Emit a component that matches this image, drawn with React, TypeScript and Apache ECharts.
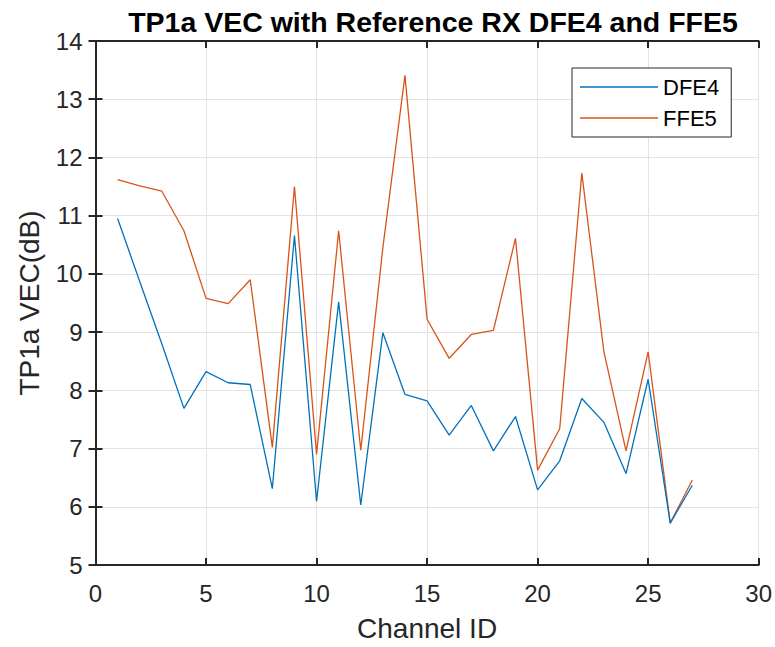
import React, { useEffect, useRef } from "react";
import * as echarts from "echarts";

const channelIds = [1, 2, 3, 4, 5, 6, 7, 8, 9, 10, 11, 12, 13, 14, 15, 16, 17, 18, 19, 20, 21, 22, 23, 24, 25, 26, 27];
const dfe4 = [10.95, 9.87, 8.8, 7.69, 8.32, 8.13, 8.1, 6.31, 10.66, 6.09, 9.52, 6.03, 8.99, 7.93, 7.82, 7.23, 7.74, 6.96, 7.55, 6.29, 6.79, 7.86, 7.45, 6.57, 8.19, 5.72, 6.37];
const ffe5 = [11.62, 11.51, 11.42, 10.74, 9.58, 9.49, 9.9, 7.02, 11.5, 6.9, 10.74, 6.97, 10.45, 13.41, 9.22, 8.55, 8.96, 9.03, 10.61, 6.63, 7.34, 11.73, 8.66, 6.96, 8.66, 5.72, 6.46];

const titleText = "TP1a VEC with Reference RX DFE4 and FFE5";
const xName = "Channel ID";
const yName = "TP1a VEC(dB)";
const xMin = 0, xMax = 30, xStep = 5;
const yMin = 5, yMax = 14, yStep = 1;

const FONT = "Liberation Sans, Arial, Helvetica, sans-serif";
const AX = "#262626";

export default function App() {
  const ref = useRef<HTMLDivElement>(null);
  useEffect(() => {
    if (!ref.current) return;
    const chart = echarts.init(ref.current, undefined, { renderer: "svg" });
    const axisCommon = {
      axisLine: { show: true, lineStyle: { color: AX, width: 2 } },
      axisTick: { show: true, inside: true, length: 7, lineStyle: { color: AX, width: 2 } },
    };
    chart.setOption({
      animation: false,
      backgroundColor: "#ffffff",
      title: {
        text: titleText,
        left: 428,
        top: 2,
        textAlign: "center",
        textStyle: { fontFamily: FONT, fontWeight: "bold", fontSize: 28.5, color: "#000" },
      },
      grid: { left: 95.5, right: 15, top: 41, bottom: 81, containLabel: false },
      legend: {
        data: ["DFE4", "FFE5"],
        orient: "vertical",
        left: 572,
        top: 68,
        padding: [6, 12, 6, 8],
        itemGap: 5,
        itemWidth: 78,
        itemHeight: 1.5,
        icon: "rect",
        borderColor: AX,
        borderWidth: 1,
        backgroundColor: "#fff",
        textStyle: { fontFamily: FONT, fontSize: 22, color: "#000", lineHeight: 26 },
      },
      xAxis: [
        {
          type: "value",
          min: xMin,
          max: xMax,
          interval: xStep,
          position: "bottom",
          name: xName,
          nameLocation: "middle",
          nameGap: 49,
          nameTextStyle: { fontFamily: FONT, fontSize: 28, color: AX },
          axisLabel: { fontFamily: FONT, fontSize: 24, color: AX, margin: 16 },
          splitLine: { show: true, lineStyle: { color: "#e3e3e3", width: 1 } },
          ...axisCommon,
        },
        {
          type: "value",
          min: xMin,
          max: xMax,
          interval: xStep,
          position: "top",
          axisLabel: { show: false },
          splitLine: { show: false },
          ...axisCommon,
        },
      ],
      yAxis: [
        {
          type: "value",
          min: yMin,
          max: yMax,
          interval: yStep,
          position: "left",
          name: yName,
          nameLocation: "middle",
          nameGap: 52,
          nameRotate: 90,
          nameTextStyle: { fontFamily: FONT, fontSize: 28, color: AX },
          axisLabel: { fontFamily: FONT, fontSize: 24, color: AX, margin: 13 },
          splitLine: { show: true, lineStyle: { color: "#e3e3e3", width: 1 } },
          ...axisCommon,
        },
        {
          type: "value",
          min: yMin,
          max: yMax,
          interval: yStep,
          position: "right",
          axisLabel: { show: false },
          splitLine: { show: false },
          ...axisCommon,
        },
      ],
      series: [
        {
          name: "DFE4",
          type: "line",
          data: channelIds.map((c, i) => [c, dfe4[i]]),
          symbol: "none",
          lineStyle: { color: "#0072BD", width: 1.3 },
          itemStyle: { color: "#0072BD" },
          z: 3,
        },
        {
          name: "FFE5",
          type: "line",
          data: channelIds.map((c, i) => [c, ffe5[i]]),
          symbol: "none",
          lineStyle: { color: "#D95319", width: 1.3 },
          itemStyle: { color: "#D95319" },
          z: 2,
        },
      ],
    });
    return () => chart.dispose();
  }, []);
  return <div ref={ref} style={{ width: 775, height: 647, position: "absolute", left: 0, top: 0 }} />;
}
